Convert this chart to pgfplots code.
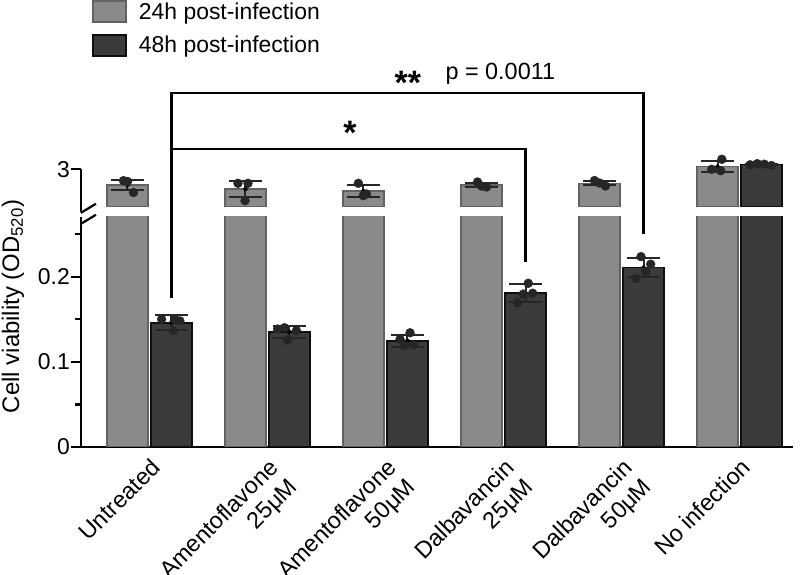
\documentclass[border=0pt]{standalone}
\usepackage{pgfplots}
\pgfplotsset{compat=1.18}
\usepackage{pgfplotstable}
\usepackage{fontspec}
\setmainfont{Liberation Sans}

\definecolor{early}{HTML}{8A8A8A}
\definecolor{earlyedge}{HTML}{626262}
\definecolor{late}{HTML}{3B3B3B}
\definecolor{lateedge}{HTML}{0E0E0E}
\definecolor{dotc}{HTML}{262626}

% group means and SD (x = treatment index)
\pgfplotstableread{
x y e
0 2.792 0.070
1 2.739 0.110
2 2.712 0.078
3 2.792 0.030
4 2.814 0.027
5 3.035 0.076
}\meanA
\pgfplotstableread{
x y e
0 0.146 0.0090
1 0.135 0.0065
2 0.1248 0.0071
3 0.1805 0.0105
4 0.2106 0.0115
5 3.063 0.010
}\meanB

% individual replicates
\pgfplotstableread{
x y
-0.220 2.849
-0.186 2.838
-0.135 2.692
0.750 2.814
0.835 2.814
0.810 2.584
1.770 2.814
1.812 2.650
1.839 2.672
2.780 2.832
2.814 2.778
2.856 2.765
3.771 2.851
3.814 2.818
3.864 2.778
4.764 3.000
4.840 2.981
4.850 3.133
}\repA
\pgfplotstableread{
x y
0.103 0.150
0.216 0.1495
0.258 0.148
0.202 0.1365
1.085 0.1385
1.144 0.140
1.245 0.1365
1.170 0.1255
2.123 0.1264
2.208 0.1341
2.237 0.1196
2.161 0.119
3.210 0.1922
3.247 0.1805
3.168 0.1796
3.120 0.1694
4.165 0.2235
4.247 0.2146
4.205 0.2059
4.123 0.198
}\repBlow
\pgfplotstableread{
x y
5.09 3.060
5.15 3.075
5.21 3.068
5.27 3.050
}\repBhigh

\newcommand{\bigfont}{\fontsize{23}{27}\selectfont}
\newcommand{\catfont}{\fontsize{23.5}{27}\selectfont}

\pgfplotsset{
  common/.style={
    scale only axis,
    width=712bp,
    xmin=-0.58, xmax=5.453,
    clip mode=individual,
    /pgf/number format/assume math mode=true,
    ticklabel style={font=\bigfont},
    tick align=outside,
    major tick length=10bp,
    minor tick length=6bp,
    every tick/.style={line width=2.2bp, black},
    axis line style={line width=2.5bp},
    yticklabel style={inner xsep=1bp},
  },
  barA/.style={ybar, bar width=0.347, bar shift=-0.1864, fill=early, draw=earlyedge, line width=1.6bp},
  barB/.style={ybar, bar width=0.347, bar shift=0.1864, fill=late, draw=lateedge, line width=1.8bp},
  errs/.style={only marks, mark=none, forget plot,
    error bars/y dir=both, error bars/y explicit,
    error bars/error bar style={line width=2bp, draw=dotc},
    error bars/error mark options={rotate=90, mark size=16.5bp, line width=2bp, draw=dotc}},
  reps/.style={only marks, mark=*, mark size=4.4bp, forget plot,
    mark options={fill=dotc, draw=dotc, line width=0.5bp}},
}

\begin{document}
\begin{tikzpicture}
\useasboundingbox (0,0) rectangle (800bp,575bp);

% lower segment, 0 to 0.27
\begin{axis}[common,
  at={(81bp,128bp)}, anchor=south west,
  height=230bp,
  ymin=0, ymax=0.27,
  axis x line*=bottom, axis y line*=left,
  ytick={0,0.1,0.2},
  minor ytick={0.05,0.15,0.25},
  xtick={0,1,2,3,4,5},
  xtick style={draw=none},
  xticklabels={Untreated,{Amentoflavone\\25μM},{Amentoflavone\\50μM},{Dalbavancin\\25μM},{Dalbavancin\\50μM},No infection},
  xticklabel style={font=\catfont, rotate=45, anchor=north east, align=right, inner sep=0bp},
  ylabel={Cell viability (OD\textsubscript{520})},
  ylabel style={font=\fontsize{24}{28}\selectfont, at={(axis description cs:-0.0955,0.611)}, anchor=center},
]
\addplot[barA, forget plot] table[x=x, y=y] {\meanA};
\addplot[barB, forget plot] table[x=x, y=y] {\meanB};
\addplot[errs, restrict x to domain=-1:4.5] table[x expr=\thisrow{x}+0.1864, y=y, y error=e] {\meanB};
\addplot[reps] table[x=x, y=y] {\repBlow};

% comparison brackets
\draw[line width=2.2bp] (axis cs:0.1864,0.1749) -- (axis cs:0.1864,0.416) -- (axis cs:4.1864,0.416) -- (axis cs:4.1864,0.2502);
\draw[line width=2.2bp] (axis cs:0.1864,0.3502) -- (axis cs:3.1864,0.3502) -- (axis cs:3.1864,0.2173);
\node[font=\fontsize{34}{34}\bfseries\selectfont] at (axis cs:2.19,0.428) {**};
\node[font=\fontsize{23.5}{27}\selectfont, anchor=base west] at (axis cs:2.479,0.4314) {p = 0.0011};
\node[font=\fontsize{34}{34}\bfseries\selectfont] at (axis cs:1.699,0.369) {*};

% axis break marks
\draw[line width=2.2bp] (axis cs:-0.5805,0.2749) -- (axis cs:-0.4534,0.2855);
\draw[line width=2.2bp] (axis cs:-0.5805,0.2620) -- (axis cs:-0.4534,0.2726);
\end{axis}

% upper segment around 3
\begin{axis}[common,
  at={(81bp,368bp)}, anchor=south west,
  height=49bp,
  ymin=2.5, ymax=3.15,
  hide x axis,
  axis y line*=left,
  y axis line style={draw=none},
  ytick={3},
  legend style={at={(axis description cs:0.0154,4.22)}, anchor=north west,
    draw=none, fill=none, inner sep=0pt, row sep=11bp,
    font=\bigfont,
    nodes={inner sep=0pt},
    /tikz/every odd column/.append style={column sep=12bp}},
  legend cell align=left,
  legend image code/.code={\draw[#1] (0bp,-10.5bp) rectangle (33bp,10.5bp);},
]
\addplot[barA] table[x=x, y=y] {\meanA};
\addplot[barB, restrict x to domain=4.5:6] table[x=x, y=y] {\meanB};
\addplot[errs] table[x expr=\thisrow{x}-0.1864, y=y, y error=e] {\meanA};
\addplot[errs, restrict x to domain=4.5:6] table[x expr=\thisrow{x}+0.1864, y=y, y error=e] {\meanB};
\addplot[reps] table[x=x, y=y] {\repA};
\addplot[reps] table[x=x, y=y] {\repBhigh};
\draw[line width=2.5bp] (axis cs:-0.58,2.434) -- (axis cs:-0.58,3.0);
\legend{24h post-infection, 48h post-infection}
\end{axis}
\end{tikzpicture}
\end{document}
